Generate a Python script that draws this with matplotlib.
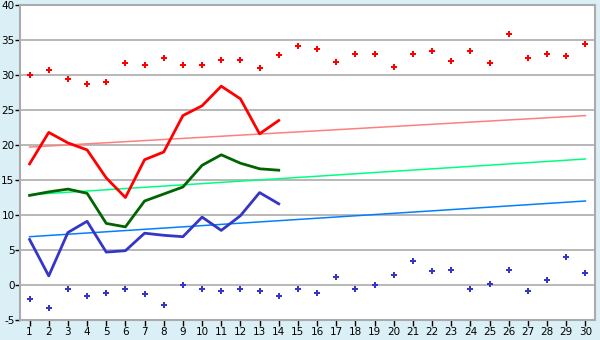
import matplotlib
matplotlib.use("Agg")
import matplotlib.pyplot as plt

days = list(range(1, 31))
x_labels = [str(d) for d in days]

max_points = [30.0, 30.7, 29.4, 28.7, 29.0, 31.7, 31.4, 32.4, 31.4, 31.4,
              32.1, 32.2, 31.0, 32.8, 34.2, 33.7, 31.8, 33.0, 33.0, 31.2,
              33.0, 33.4, 32.0, 33.4, 31.7, 35.8, 32.4, 33.0, 32.7, 34.4]
min_points = [-2.0, -3.3, -0.5, -1.6, -1.2, -0.6, -1.3, -2.8, 0.0, -0.5,
              -0.9, -0.6, -0.9, -1.6, -0.6, -1.2, 1.2, -0.5, 0.0, 1.5,
              3.4, 2.0, 2.1, -0.6, 0.2, 2.1, -0.9, 0.7, 4.0, 1.7]

line_days = list(range(1, 15))
red_line = [17.3, 21.8, 20.3, 19.3, 15.3, 12.5, 17.9, 19.0, 24.2, 25.6,
            28.4, 26.6, 21.6, 23.5]
green_line = [12.8, 13.3, 13.7, 13.1, 8.8, 8.3, 12.0, 13.0, 14.0, 17.1,
              18.6, 17.4, 16.6, 16.4]
blue_line = [6.5, 1.3, 7.5, 9.1, 4.7, 4.9, 7.4, 7.1, 6.9, 9.7,
             7.8, 9.9, 13.2, 11.6]

trend_days = [1, 30]
red_trend = [19.7, 24.2]
green_trend = [12.9, 18.0]
blue_trend = [6.9, 12.0]

y_ticks = list(range(-5, 41, 5))

bg = "#DAEFF6"
grid_c = "#ABABAB"

fig = plt.figure(figsize=(6, 3.4), dpi=100, facecolor=bg)
ax = fig.add_axes([20/600, 20/340, 575/600, 315/340])
ax.set_facecolor("white")

for yv in y_ticks:
    ax.axhline(yv, color=grid_c, lw=1.2, zorder=0)

ax.plot(trend_days, red_trend, color="#FF7F7F", lw=1.1, zorder=2)
ax.plot(trend_days, green_trend, color="#00FF80", lw=1.1, zorder=2)
ax.plot(trend_days, blue_trend, color="#0080FF", lw=1.1, zorder=2)

ax.plot(line_days, red_line, color="#FF0000", lw=2, zorder=3)
ax.plot(line_days, green_line, color="#006400", lw=2, zorder=3)
ax.plot(line_days, blue_line, color="#3535C8", lw=2, zorder=3)

ax.plot(days, max_points, ls="none", marker="P", ms=5, color="#FF0000",
        mec="#FF0000", mew=0, zorder=4)
ax.plot(days, min_points, ls="none", marker="P", ms=5, color="#3535C8",
        mec="#3535C8", mew=0, zorder=4)

ax.set_xlim(0.5, 30.5)
ax.set_ylim(-5, 40)
ax.set_xticks(days)
ax.set_xticklabels(x_labels)
ax.set_yticks(y_ticks)
ax.set_yticklabels([str(v) for v in y_ticks])

for s in ["top", "right", "left", "bottom"]:
    ax.spines[s].set_color(grid_c)
    ax.spines[s].set_linewidth(1.5)
ax.tick_params(axis="both", colors="black", labelsize=7.5, length=4,
               width=1, direction="out", pad=1)
ax.tick_params(axis="both", color="black")
ax.tick_params(axis="y", pad=0.5, length=3.5)

fig.savefig("out.png", dpi=100, facecolor=bg)
